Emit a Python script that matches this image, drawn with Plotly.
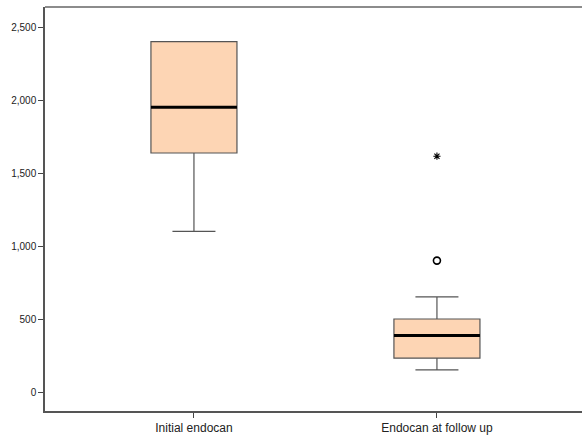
import plotly.graph_objects as go

categories = ["Initial endocan", "Endocan at follow up"]
lower_whisker = [1100, 152]
q1 = [1637, 232]
median = [1950, 387]
q3 = [2400, 500]
upper_whisker = [2400, 652]
outlier_cat = [1]
outlier_val = [900]
extreme_cat = [1]
extreme_val = [1615]
y_tickvals = [0, 500, 1000, 1500, 2000, 2500]

xpos = list(range(len(categories)))
box_w = 0.354
fill = "#FDD5B4"
edge = "#555555"

fig = go.Figure()
fig.add_trace(go.Box(
    x=xpos, q1=q1, median=median, q3=q3,
    lowerfence=lower_whisker, upperfence=upper_whisker,
    width=box_w, whiskerwidth=0.5,
    fillcolor=fill, line=dict(color=edge, width=1.2),
    boxpoints=False, showlegend=False, hoverinfo="skip",
))
for xi, m in zip(xpos, median):
    fig.add_trace(go.Scatter(
        x=[xi - box_w / 2, xi + box_w / 2], y=[m, m], mode="lines",
        line=dict(color="black", width=3), showlegend=False, hoverinfo="skip",
    ))
fig.add_trace(go.Scatter(
    x=outlier_cat, y=outlier_val, mode="markers",
    marker=dict(symbol="circle-open", size=7, color="black", line=dict(width=1.6)),
    showlegend=False,
))
fig.add_trace(go.Scatter(
    x=extreme_cat, y=extreme_val, mode="markers",
    marker=dict(symbol="asterisk-open", size=6, color="black", line=dict(width=1.1)),
    showlegend=False,
))

fig.update_layout(
    width=582, height=437,
    margin=dict(l=45, r=0, t=7, b=26),
    paper_bgcolor="white", plot_bgcolor="white",
    font=dict(family="Liberation Sans, Arial, sans-serif", color="#222222"),
    xaxis=dict(
        range=[-0.613, 1.597], tickvals=xpos, ticktext=categories,
        showgrid=False, zeroline=False, showline=True, linecolor="#555555", linewidth=1.5,
        ticks="outside", ticklen=5, tickcolor="#444444", tickfont=dict(size=12),
    ),
    yaxis=dict(
        range=[-130, 2637], tickvals=y_tickvals, tickformat=",",
        showgrid=False, zeroline=False, showline=True, linecolor="#555555", linewidth=1.5,
        ticks="outside", ticklen=5, tickcolor="#444444", tickfont=dict(size=10),
    ),
    shapes=[dict(type="line", xref="paper", yref="paper", x0=0, x1=1, y0=1, y1=1,
                 line=dict(color="#666666", width=1.5))],
)

fig.write_html("out.html", config={"displayModeBar": False},
               post_script="document.body.style.margin='0';document.body.style.overflow='hidden';")
